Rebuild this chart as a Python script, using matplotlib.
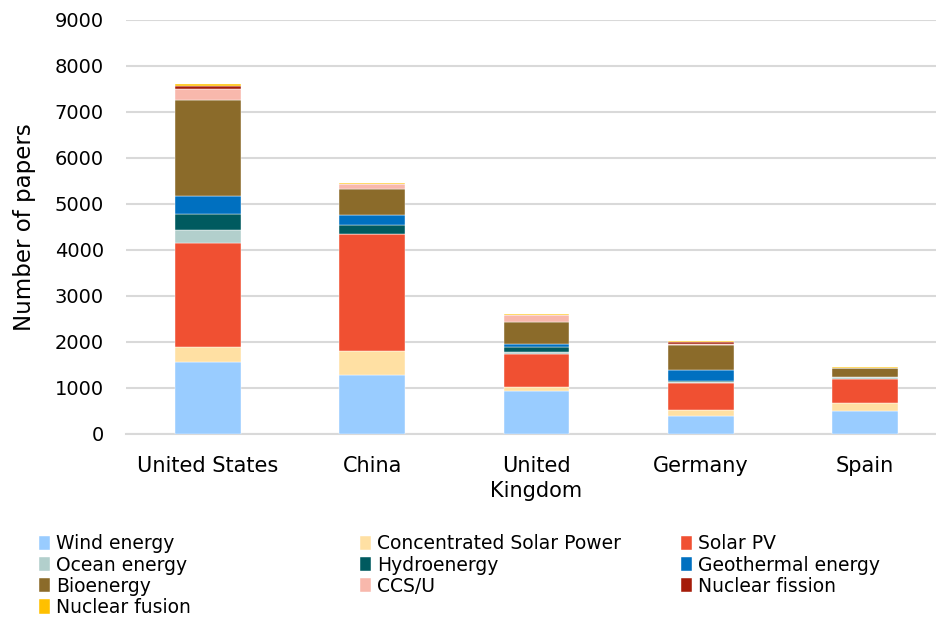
import matplotlib.pyplot as plt
import numpy as np

countries = ['United States', 'China', 'United\nKingdom', 'Germany', 'Spain']

sources = ['Wind energy', 'Concentrated Solar Power', 'Solar PV', 'Ocean energy',
           'Hydroenergy', 'Geothermal energy', 'Bioenergy', 'CCS/U',
           'Nuclear fission', 'Nuclear fusion']
colors = ['#99CCFF', '#FFE0A3', '#F05032', '#B2CFCC', '#005A5F', '#0070C0',
          '#8B6B2A', '#F8B8AC', '#A51C0A', '#FFC000']

wind = [1560, 1285, 930, 395, 505]
csp = [340, 520, 100, 130, 160]
solar_pv = [2245, 2535, 710, 590, 535]
ocean = [290, 0, 50, 20, 35]
hydro = [355, 195, 95, 10, 5]
geothermal = [390, 225, 80, 255, 5]
bioenergy = [2085, 560, 475, 530, 190]
ccs = [245, 110, 145, 30, 5]
fission = [45, 10, 5, 30, 5]
fusion = [45, 20, 25, 22, 20]

series = [wind, csp, solar_pv, ocean, hydro, geothermal, bioenergy, ccs, fission, fusion]

fig = plt.figure(figsize=(9.36, 6.17), dpi=100)
ax = fig.add_axes([0.1346, 0.2966, 0.865, 0.671])

x = np.arange(len(countries))
bottom = np.zeros(len(countries))
handles = []
for name, vals, col in zip(sources, series, colors):
    b = ax.bar(x, vals, 0.4, bottom=bottom, color=col, label=name,
               edgecolor='white', linewidth=0.3, zorder=3)
    handles.append(b)
    bottom += np.array(vals)

ax.set_ylim(0, 9000)
ax.set_xlim(-0.5, 4.43)
ax.set_yticks(range(0, 9001, 1000))
ax.yaxis.grid(True, color='#D9D9D9', linewidth=1.5, zorder=0)
ax.set_axisbelow(True)
for s in ['top', 'right', 'left']:
    ax.spines[s].set_visible(False)
ax.spines['bottom'].set_color('#D9D9D9')
ax.spines['bottom'].set_linewidth(1.5)
ax.tick_params(axis='both', length=0, colors='black')
ax.tick_params(axis='y', pad=16, labelsize=14)
ax.tick_params(axis='x', pad=16, labelsize=15)
ax.set_xticks(x)
ax.set_xticklabels(countries, linespacing=1.27)
ax.set_ylabel('Number of papers', fontsize=16.5, labelpad=13)

# legend laid out in three columns, row-major like the original
cols = [[0, 3, 6, 9], [1, 4, 7], [2, 5, 8]]
xpos = [0.0415, 0.3845, 0.7275]
for idx, xp in zip(cols, xpos):
    fig.legend([handles[i] for i in idx], [sources[i] for i in idx],
               loc='upper left', bbox_to_anchor=(xp, 0.134), frameon=False,
               fontsize=13.5, handlelength=0.6, handleheight=0.8,
               handletextpad=0.3, labelspacing=0.12, borderaxespad=0,
               borderpad=0)

fig.savefig('out.png', dpi=100)
